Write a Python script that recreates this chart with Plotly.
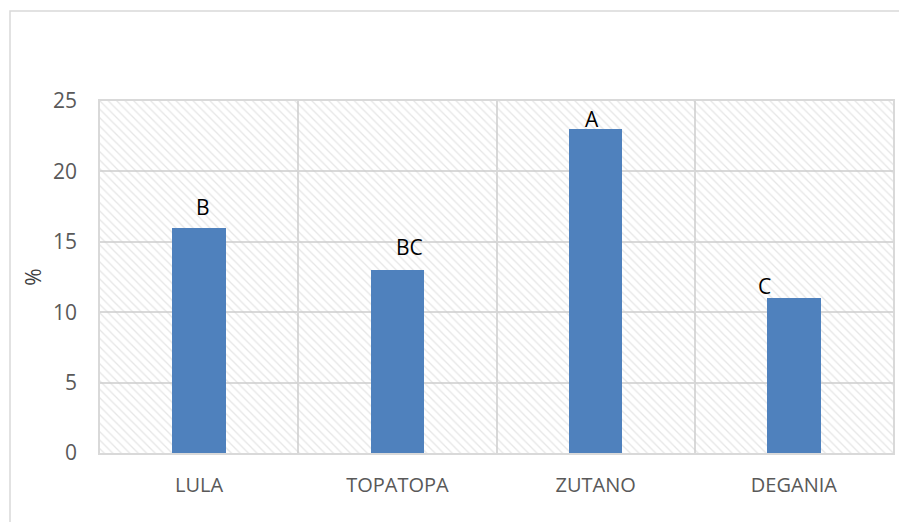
import plotly.graph_objects as go

categories = ["LULA", "TOPATOPA", "ZUTANO", "DEGANIA"]
values = [16, 13, 23, 11]
letters = ["B", "BC", "A", "C"]
y_max = 25
y_ticks = [0, 5, 10, 15, 20, 25]

# label placement (style only): pixel offsets relative to bar top centre
label_dx = [4, 12, -4, -29]
label_dy = [5, 7, -6, -4]

fig = go.Figure()

# hatched background drawn as full-height patterned bars
fig.add_trace(go.Bar(
    x=categories, y=[y_max] * len(categories), width=1,
    marker=dict(color="rgba(0,0,0,0)", line=dict(width=0),
                pattern=dict(shape="\\", fgcolor="#cdcdcd", bgcolor="rgba(0,0,0,0)",
                             size=6, solidity=0.22)),
    hoverinfo="skip", showlegend=False,
))

fig.add_trace(go.Bar(
    x=categories, y=values, width=0.27,
    marker=dict(color="#4F81BD", line=dict(width=0)),
    showlegend=False,
))

annotations = []
for c, v, t, dx, dy in zip(categories, values, letters, label_dx, label_dy):
    annotations.append(dict(
        x=c, y=v, text=t, showarrow=False, xanchor="center", yanchor="bottom",
        xshift=dx, yshift=dy,
        font=dict(family="Open Sans, Liberation Sans", size=21, color="black"),
    ))

W, H = 899, 514
L, R, T, B = 92, 14, 93, 69
pw, ph = W - L - R, H - T - B
x0 = (2 - L) / pw
x1 = (897 - L) / pw
y1 = (H - B - 3) / ph
y0 = (H - B - 540) / ph

fig.update_layout(
    width=W, height=H,
    margin=dict(l=L, r=R, t=T, b=B),
    barmode="overlay",
    plot_bgcolor="white", paper_bgcolor="white",
    bargap=0,
    annotations=annotations,
    xaxis=dict(
        tickson="boundaries", showgrid=True, gridcolor="#d9d9d9", gridwidth=1.5,
        ticks="", showline=True, linecolor="#d9d9d9", linewidth=1.5, mirror=True,
        tickfont=dict(family="Open Sans, Liberation Sans", size=20, color="#595959"),
        ticklabelstandoff=13,
        range=[-0.5, 3.5],
    ),
    yaxis=dict(
        range=[0, y_max], tickvals=y_ticks, showgrid=True, gridcolor="#d9d9d9",
        gridwidth=1.5, zeroline=False, showline=True, linecolor="#d9d9d9",
        linewidth=1.5, mirror=True, ticks="",
        ticklabelstandoff=17,
        tickfont=dict(family="Open Sans, Liberation Sans", size=21, color="#595959"),
        title=dict(text="%", font=dict(family="Open Sans, Liberation Sans", size=21,
                                      color="#404040"), standoff=6),
    ),
    shapes=[dict(type="rect", xref="paper", yref="paper", x0=x0, x1=x1, y0=y0, y1=y1,
                 line=dict(color="#d9d9d9", width=1.5), fillcolor="rgba(0,0,0,0)",
                 layer="below")],
)

fig.write_html("out.html")
